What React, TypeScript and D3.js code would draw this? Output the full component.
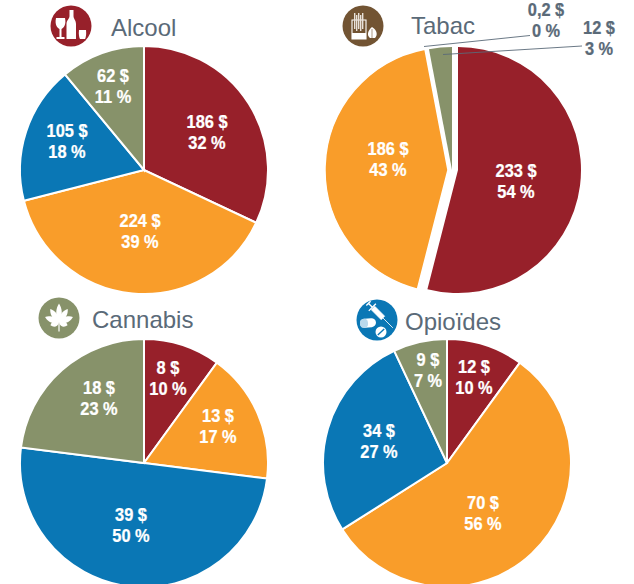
import React from "react";
import * as d3 from "d3";

const RED = "#97202a", ORANGE = "#f99d2a", BLUE = "#0a77b5", GREEN = "#87926a", BROWN = "#725433";
const SLATE = "#5a6a78";

const alcoolAmounts = ["186 $", "224 $", "105 $", "62 $"];
const alcoolShares = [32, 39, 18, 11];
const alcoolColors = [RED, ORANGE, BLUE, GREEN];
const alcoolPos: [number, number][] = [[207, 122], [140, 221], [67, 131], [113, 76]];

const tabacAmounts = ["233 $", "186 $", "0,2 $", "12 $"];
const tabacShares = [54, 43, 0, 3];
const tabacColors = [RED, ORANGE, BLUE, GREEN];
const tabacOffsets = [0, -10, -9, -6];
const tabacStrokes = [0, 1.5, 0, 0];

const cannabisAmounts = ["8 $", "13 $", "39 $", "18 $"];
const cannabisShares = [10, 17, 50, 23];
const cannabisColors = [RED, ORANGE, BLUE, GREEN];
const cannabisPos: [number, number][] = [[168, 368], [218, 416], [131, 515], [99, 388]];

const opioidAmounts = ["12 $", "70 $", "34 $", "9 $"];
const opioidShares = [10, 56, 27, 7];
const opioidColors = [RED, ORANGE, BLUE, GREEN];
const opioidPos: [number, number][] = [[474, 367], [483, 503], [379, 431], [428, 360]];

const R = 123;
const R_STROKED = 124;
const FONT = "'Liberation Sans',sans-serif";
const TITLE_FONT = "'Liberation Sans',sans-serif";

const pie = d3.pie<number>().sort(null).value((d) => d);
const arc = d3.arc<d3.PieArcDatum<number>>().innerRadius(0).outerRadius(R);
const arcStroked = d3.arc<d3.PieArcDatum<number>>().innerRadius(0).outerRadius(R_STROKED);

function Label({ x, y, a, b, fill = "#fff" }: { x: number; y: number; a: string; b: string; fill?: string }) {
  return (
    <g transform={`translate(${x},${y}) scale(0.91,1)`} fontFamily={FONT} fontWeight={700} fontSize={18} fill={fill} stroke={fill} strokeWidth={0.25} textAnchor="middle">
      <text y={6}>{a}</text>
      <text y={27}>{b}</text>
    </g>
  );
}

function Pie({ cx, cy, values, colors, stroke = 2 }: { cx: number; cy: number; values: number[]; colors: string[]; stroke?: number }) {
  return (
    <g transform={`translate(${cx},${cy})`}>
      {pie(values).map((d, i) => (
        <path key={i} d={arcStroked(d) || ""} fill={colors[i]} stroke="#fff" strokeWidth={stroke} />
      ))}
    </g>
  );
}

function Title({ x, y, t }: { x: number; y: number; t: string }) {
  return <text x={x} y={y} fontFamily={TITLE_FONT} fontSize={24} fill={SLATE}>{t}</text>;
}

function AlcoolIcon() {
  return (
    <g transform="translate(71,26)">
      <circle r={20.5} fill={RED} />
      <g fill="#fff">
        <path d="M-1.5,-16 h4 v6 c0,3 2.5,4 2.5,8 v15 h-9.5 v-15 c0,-4 3,-5 3,-8 z" />
        <path d="M-15,-8 h9 c1.5,7 -1.5,10 -3.5,11 v8 h3 v2 h-8 v-2 h3 v-8 c-2,-1 -5,-4 -3.5,-11 z" />
        <path d="M8,4 h7 c0.6,5 -0.4,8 -1,9 h-5 c-0.6,-1 -1.6,-4 -1,-9 z" />
      </g>
    </g>
  );
}

function TabacIcon() {
  return (
    <g transform="translate(363,26)">
      <circle r={20.5} fill={BROWN} />
      <path d="M-11,-6 h14 v19 h-14 z" fill="none" stroke="#fff" strokeWidth={1.1} />
      <path d="M-11,7 h14 v6 h-14 z" fill="#fff" />
      {[-9, -7, -5, -3, -1].map((x, i) => (
        <rect key={i} x={x} y={-13 + (i % 2) * 2} width={1.4} height={16} fill="#e9e2da" />
      ))}
      <path d="M7,12 c-3,-2 -3,-7 2,-11 c5,3 6,8 3,11 z" fill="#fff" />
      <path d="M9,3 L9,12" stroke={BROWN} strokeWidth={0.6} />
    </g>
  );
}

function CannabisIcon() {
  const leaves = [[0, 19], [33, 16], [-33, 16], [68, 15], [-68, 15], [108, 9], [-108, 9]];
  return (
    <g transform="translate(59,318)">
      <circle r={20.5} fill={GREEN} />
      <g fill="#fff" transform="translate(0,4.5)">
        {leaves.map(([rot, len], i) => (
          <path key={i} transform={`rotate(${rot})`} d={`M0,0 C-4.2,${-len * 0.35} -3.2,${-len * 0.75} 0,${-len} C3.2,${-len * 0.75} 4.2,${-len * 0.35} 0,0 Z`} />
        ))}
        <rect x={-0.6} y={0} width={1.2} height={9} />
      </g>
    </g>
  );
}

function OpioidIcon() {
  return (
    <g transform="translate(377,320)">
      <circle r={20.5} fill={BLUE} />
      <g transform="translate(1,-7) rotate(-45)" stroke="#fff" fill="#fff">
        <rect x={-2.5} y={-7} width={5} height={14} strokeWidth={0.6} />
        <path d="M-5,-8 h10 M0,-13 v5 M-3,-13.5 h6" strokeWidth={1.4} />
        <path d="M0,7 v14" strokeWidth={0.8} />
      </g>
      <g transform="rotate(-5 -9 3)">
        <rect x={-17} y={-1.5} width={16} height={9} rx={4.5} fill="#fff" />
        <rect x={-17} y={-1.5} width={8} height={9} rx={4} fill="#b9d9ec" />
      </g>
      <circle cx={4} cy={12} r={5.5} fill="#fff" />
      <path d="M0.8,15 L7.2,9" stroke={BLUE} strokeWidth={1.4} />
    </g>
  );
}

const pct = (v: number) => `${v} %`;

export default function App() {
  const tabacPie = pie(tabacShares);
  return (
    <svg width={634} height={584} viewBox="0 0 634 584" style={{ position: "absolute", left: 0, top: 0, display: "block", background: "#fff" }}>
      <Pie cx={144} cy={170} values={alcoolShares} colors={alcoolColors} />
      {alcoolShares.map((v, i) => <Label key={i} x={alcoolPos[i][0]} y={alcoolPos[i][1]} a={alcoolAmounts[i]} b={pct(v)} />)}
      <AlcoolIcon />
      <Title x={111} y={36} t="Alcool" />

      {tabacPie.map((d, i) => (
        <path key={i} transform={`translate(${458 + tabacOffsets[i]},170)`} d={arc(d) || ""} fill={tabacColors[i]} stroke={tabacStrokes[i] ? "#fff" : "none"} strokeWidth={tabacStrokes[i]} />
      ))}
      <Label x={516} y={171} a={tabacAmounts[0]} b={pct(tabacShares[0])} />
      <Label x={388} y={149} a={tabacAmounts[1]} b={pct(tabacShares[1])} />
      <Label x={546} y={10} a={tabacAmounts[2]} b={pct(tabacShares[2])} fill={SLATE} />
      <Label x={599} y={28} a={tabacAmounts[3]} b={pct(tabacShares[3])} fill={SLATE} />
      <path d="M424,46.5 L530,35.5" stroke={SLATE} strokeWidth={0.9} fill="none" />
      <path d="M443,54.5 L582,46" stroke={SLATE} strokeWidth={0.9} fill="none" />
      <TabacIcon />
      <Title x={411} y={34} t="Tabac" />

      <Pie cx={144} cy={463} values={cannabisShares} colors={cannabisColors} />
      {cannabisShares.map((v, i) => <Label key={i} x={cannabisPos[i][0]} y={cannabisPos[i][1]} a={cannabisAmounts[i]} b={pct(v)} />)}
      <CannabisIcon />
      <Title x={92} y={328} t="Cannabis" />

      <Pie cx={447} cy={463} values={opioidShares} colors={opioidColors} />
      {opioidShares.map((v, i) => <Label key={i} x={opioidPos[i][0]} y={opioidPos[i][1]} a={opioidAmounts[i]} b={pct(v)} />)}
      <OpioidIcon />
      <Title x={405} y={330} t="Opioïdes" />
    </svg>
  );
}
